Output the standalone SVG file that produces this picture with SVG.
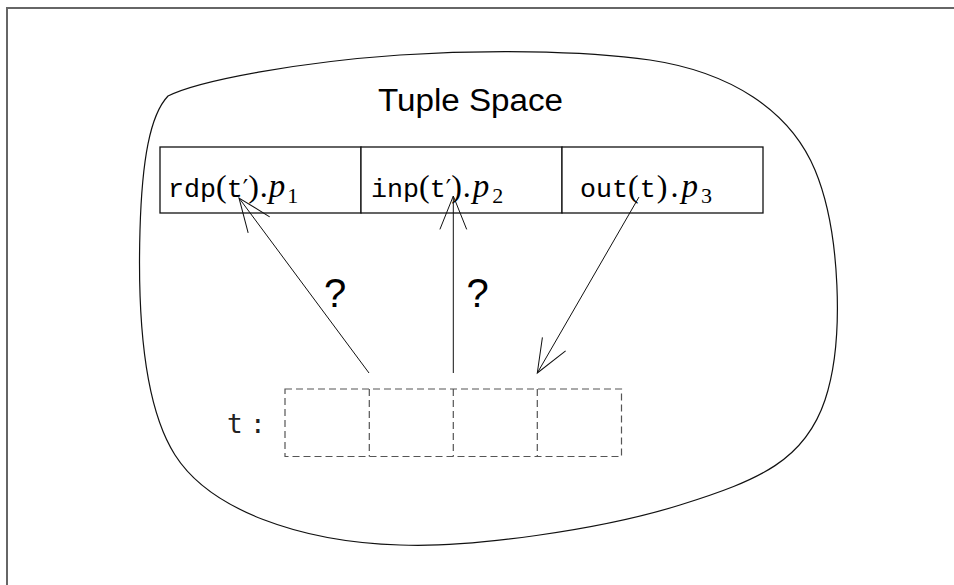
<svg xmlns="http://www.w3.org/2000/svg" width="954" height="585" viewBox="0 0 954 585">
  <style>
    .frame { fill: none; stroke: #666; stroke-width: 2; }
    .blob { fill: none; stroke: #111; stroke-width: 1.2; }
    .cell { fill: #fff; stroke: #111; stroke-width: 1.3; }
    .slot { fill: none; stroke: #555; stroke-width: 1.2; stroke-dasharray: 7 4; }
    .wire { fill: none; stroke: #111; stroke-width: 1; marker-end: url(#open); }
    .title { font-family: "Liberation Sans", Arial, sans-serif; font-size: 31px; fill: #000; }
    .op { fill: #000; }
    .tt { font-family: "Liberation Mono", "DejaVu Sans Mono", monospace; font-size: 26.7px; }
    .rm { font-family: "Liberation Serif", "DejaVu Serif", serif; font-size: 32px; }
    .pr { font-family: "DejaVu Serif", "Liberation Serif", serif; font-size: 24px; }
    .it { font-family: "Liberation Serif", "DejaVu Serif", serif; font-size: 33px; font-style: italic; }
    .sub { font-family: "Liberation Serif", "DejaVu Serif", serif; font-size: 22px; }
    .q { font-family: "Liberation Sans", Arial, sans-serif; font-size: 40px; fill: #000; }
    .lbl { font-family: "DejaVu Sans Mono", "Liberation Mono", monospace; font-size: 26px; fill: #222; }
  </style>
  <defs>
    <marker id="open" markerUnits="userSpaceOnUse" viewBox="-36 -16 38 32" markerWidth="38" markerHeight="32" refX="0" refY="0" orient="auto" overflow="visible">
      <path d="M-33.4,-13.4 L0,0 L-33.4,13.4" fill="none" stroke="#111" stroke-width="1"/>
    </marker>
  </defs>

  <rect width="954" height="585" fill="#fff"/>
  <path class="frame" d="M954,8 H7 V585"/>

  <!-- tuple space boundary -->
  <g id="space">
    <path class="blob" d="M168,96 C200,80 300,62 400,55 C480,50 580,50 650,60 C730,72 790,110 815,170 C840,230 845,340 825,400 C805,460 760,480 680,505 C600,530 470,548 400,545 C300,542 210,510 175,455 C140,400 138,300 140,230 C142,160 150,115 168,96 Z"/>
    <text class="title" x="470.5" y="111" text-anchor="middle" textLength="185" lengthAdjust="spacingAndGlyphs">Tuple Space</text>
  </g>

  <!-- processes -->
  <g id="p1">
    <rect class="cell" x="160" y="147" width="201" height="66"/>
    <text class="op" x="168" y="197"><tspan class="tt">rdp</tspan><tspan class="rm">(</tspan><tspan class="tt">t</tspan><tspan class="pr">′</tspan><tspan class="rm">)</tspan><tspan class="rm" dx="1">.</tspan><tspan class="it" dx="1">p</tspan><tspan class="sub" dx="2" dy="6">1</tspan></text>
  </g>
  <g id="p2">
    <rect class="cell" x="361" y="147" width="201" height="66"/>
    <text class="op" x="371" y="197"><tspan class="tt">inp</tspan><tspan class="rm">(</tspan><tspan class="tt">t</tspan><tspan class="pr">′</tspan><tspan class="rm">)</tspan><tspan class="rm" dx="1">.</tspan><tspan class="it" dx="2">p</tspan><tspan class="sub" dx="3" dy="6">2</tspan></text>
  </g>
  <g id="p3">
    <rect class="cell" x="562" y="147" width="201" height="66"/>
    <text class="op" x="580" y="197"><tspan class="tt">out</tspan><tspan class="rm">(</tspan><tspan class="tt" dx="1">t</tspan><tspan class="rm" dx="1">)</tspan><tspan class="rm" dx="3">.</tspan><tspan class="it" dx="3">p</tspan><tspan class="sub" dx="3" dy="6">3</tspan></text>
  </g>

  <!-- tuple t with four fields -->
  <g id="tuple">
    <text class="lbl" y="433"><tspan x="227">t</tspan><tspan x="250">:</tspan></text>
    <rect class="slot" x="285" y="389" width="336.5" height="67.5"/>
    <path class="slot" d="M369.3,389 V456.5 M453.3,389 V456.5 M537.3,389 V456.5" stroke="#222"/>
  </g>

  <!-- connectors -->
  <g id="connectors">
    <path class="wire" d="M369,373 L239,198"/>
    <path class="wire" d="M453.3,373 L453.3,196"/>
    <path class="wire" d="M639,197 L537.3,373"/>
    <text class="q" x="335" y="307" text-anchor="middle">?</text>
    <text class="q" x="477.5" y="307" text-anchor="middle">?</text>
  </g>
</svg>
